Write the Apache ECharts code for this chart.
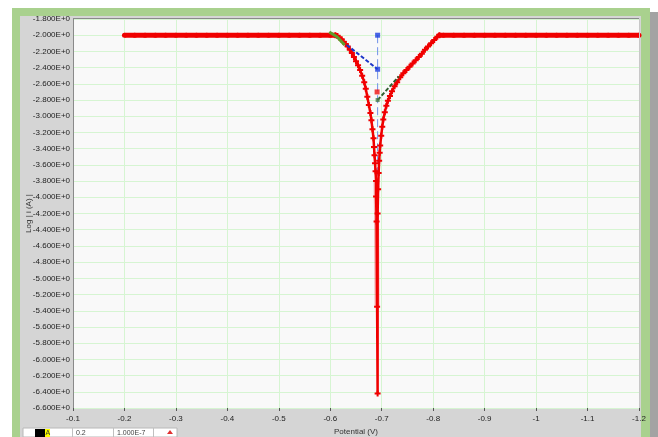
<!DOCTYPE html>
<html><head><meta charset="utf-8">
<script src="https://cdn.jsdelivr.net/npm/echarts@6/dist/echarts.min.js"></script>
<style>html,body{margin:0;padding:0;background:#fff}#c{width:658px;height:437px}</style>
</head><body><div id="c"></div>
<script>
// ---- data ----
const xTickLabels = ['-0.1','-0.2','-0.3','-0.4','-0.5','-0.6','-0.7','-0.8','-0.9','-1','-1.1','-1.2'];
const leftFlatPot = [-0.20,-0.22,-0.24,-0.26,-0.28,-0.30,-0.32,-0.34,-0.36,-0.38,-0.40,-0.42,-0.44,-0.46,-0.48,-0.50,-0.52,-0.54,-0.56,-0.58,-0.60,-0.61];
const leftFlatLog = [-2.0,-2.0,-2.0,-2.0,-2.0,-2.0,-2.0,-2.0,-2.0,-2.0,-2.0,-2.0,-2.0,-2.0,-2.0,-2.0,-2.0,-2.0,-2.0,-2.0,-2.0,-2.0];
const dipPot = [-0.610,-0.614,-0.618,-0.622,-0.626,-0.630,-0.634,-0.638,-0.642,-0.646,-0.650,-0.654,-0.658,-0.662,-0.666,-0.669,-0.672,-0.675,-0.678,-0.680,-0.682,-0.684,-0.685,-0.686,-0.687,-0.688,-0.689,-0.689,-0.690,-0.691,-0.692,
  -0.692,-0.693,-0.694,-0.695,-0.696,-0.697,-0.699,-0.701,-0.703,-0.706,-0.709,-0.712,-0.716,-0.720,-0.725,-0.730,-0.736,-0.742,-0.748,-0.754,-0.760,-0.766,-0.772,-0.778,-0.784,-0.790,-0.796,-0.802,-0.808,-0.812];
const dipLog = [-2.00,-2.01,-2.03,-2.05,-2.08,-2.11,-2.14,-2.18,-2.22,-2.27,-2.32,-2.37,-2.43,-2.50,-2.58,-2.66,-2.76,-2.86,-2.96,-3.05,-3.16,-3.27,-3.38,-3.48,-3.58,-3.68,-3.80,-3.99,-4.30,-5.35,-6.42,
  -4.20,-3.90,-3.70,-3.55,-3.45,-3.36,-3.24,-3.13,-3.04,-2.95,-2.87,-2.81,-2.75,-2.69,-2.63,-2.58,-2.52,-2.47,-2.43,-2.39,-2.35,-2.31,-2.27,-2.23,-2.18,-2.14,-2.10,-2.06,-2.02,-2.00];
const rightFlatPot = [-0.812,-0.82,-0.84,-0.86,-0.88,-0.90,-0.92,-0.94,-0.96,-0.98,-1.00,-1.02,-1.04,-1.06,-1.08,-1.10,-1.12,-1.14,-1.16,-1.18,-1.20];
const rightFlatLog = [-2.0,-2.0,-2.0,-2.0,-2.0,-2.0,-2.0,-2.0,-2.0,-2.0,-2.0,-2.0,-2.0,-2.0,-2.0,-2.0,-2.0,-2.0,-2.0,-2.0,-2.0];
const stemGlowPot = [-0.689,-0.690,-0.691];
const stemGlowLog = [-3.80,-4.30,-5.35];
const anodicFitPot = [-0.632,-0.692];
const anodicFitLog = [-2.12,-2.42];
const ecorrLinePot = [-0.692,-0.692];
const ecorrLineLog = [-2.00,-5.20];
const cathodicFitPot = [-0.692,-0.733];
const cathodicFitLog = [-2.80,-2.51];
const greenSegPot = [-0.598,-0.613,-0.628];
const greenSegLog = [-1.96,-2.02,-2.12];
const bluePtsPot = [-0.692,-0.692];
const bluePtsLog = [-2.00,-2.42];
const redPtPot = [-0.691];
const redPtLog = [-2.70];
const greenPtPot = [-0.692];
const greenPtLog = [-2.80];

const pairs = (xs, ys) => xs.map((x, i) => [x, ys[i]]);
const RED = '#f00000';
const plus = 'path://M2,0H4V2H6V4H4V6H2V4H0V2H2Z';

const chart = echarts.init(document.getElementById('c'), null, {renderer: 'canvas'});
const FONT = 'Liberation Sans, Arial, sans-serif';
const lbl = {fontFamily: FONT, fontSize: 8, color: '#222'};
chart.setOption({
  animation: false,
  backgroundColor: '#ffffff',
  grid: {left: 73, right: 19, top: 19, bottom: 29, show: true, backgroundColor: '#f9f9f9', borderWidth: 0,
    containLabel: false, outerBoundsMode: 'none'},
  graphic: [
    {type: 'rect', z: -100, shape: {x: 650, y: 12, width: 8, height: 425}, style: {fill: '#a3a3a3'}},
    {type: 'rect', z: -99, shape: {x: 12, y: 8, width: 638, height: 429}, style: {fill: '#a9d18e'}},
    {type: 'rect', z: -98, shape: {x: 20, y: 16, width: 621, height: 421}, style: {fill: '#d5d5d5'}},
    {type: 'line', z: 50, shape: {x1: 73, y1: 18.5, x2: 639, y2: 18.5}, style: {stroke: '#8a8a8a', lineWidth: 1}},
    {type: 'line', z: 50, shape: {x1: 639.5, y1: 19, x2: 639.5, y2: 408}, style: {stroke: '#c8c8c8', lineWidth: 1}},
    // bottom status bar
    {type: 'rect', z: 50, shape: {x: 23, y: 428, width: 154, height: 9}, style: {fill: '#ffffff', stroke: '#b8b8b8', lineWidth: 1}},
    {type: 'rect', z: 51, shape: {x: 35, y: 429, width: 10, height: 8}, style: {fill: '#000000'}},
    {type: 'rect', z: 51, shape: {x: 45, y: 429, width: 5, height: 8}, style: {fill: '#ffff00'}},
    {type: 'text', z: 52, style: {x: 45.5, y: 429.5, text: 'A', fontSize: 7, fontFamily: FONT, fill: '#333'}},
    {type: 'line', z: 51, shape: {x1: 72.5, y1: 428, x2: 72.5, y2: 437}, style: {stroke: '#c0c0c0', lineWidth: 1}},
    {type: 'text', z: 52, style: {x: 76, y: 429.5, text: '0.2', fontSize: 7, fontFamily: FONT, fill: '#444'}},
    {type: 'line', z: 51, shape: {x1: 113.5, y1: 428, x2: 113.5, y2: 437}, style: {stroke: '#c0c0c0', lineWidth: 1}},
    {type: 'text', z: 52, style: {x: 117, y: 429.5, text: '1.000E-7', fontSize: 7, fontFamily: FONT, fill: '#444'}},
    {type: 'line', z: 51, shape: {x1: 153.5, y1: 428, x2: 153.5, y2: 437}, style: {stroke: '#c0c0c0', lineWidth: 1}},
    {type: 'polygon', z: 52, shape: {points: [[167, 434], [173, 434], [170, 430]]}, style: {fill: '#e03030'}}
  ],
  xAxis: {
    type: 'value', min: -1.2, max: -0.1, interval: 0.1, inverse: true,
    name: 'Potential (V)', nameLocation: 'middle', nameGap: 20, nameMoveOverlap: false,
    nameTextStyle: {fontFamily: FONT, fontSize: 8, color: '#333'},
    axisLine: {show: false},
    axisTick: {show: true, length: 3, inside: false, lineStyle: {color: '#555'}},
    axisLabel: {...lbl, margin: 7, showMaxLabel: true, showMinLabel: true,
      formatter: v => xTickLabels[Math.round((-v - 0.1) / 0.1)] ?? ''},
    splitLine: {show: true, lineStyle: {color: '#d6f5d2', width: 1}}
  },
  yAxis: {
    type: 'value', min: -6.6, max: -1.8, interval: 0.2,
    name: 'Log | i (A) |', nameLocation: 'middle', nameGap: 40, nameRotate: 90, nameMoveOverlap: false,
    nameTextStyle: {fontFamily: FONT, fontSize: 8, color: '#333'},
    axisLine: {show: true, lineStyle: {color: '#8a8a8a', width: 1}},
    axisTick: {show: false},
    axisLabel: {...lbl, margin: 3, formatter: v => v.toFixed(3) + 'E+0'},
    splitLine: {show: true, lineStyle: {color: '#d6f5d2', width: 1}}
  },
  series: [
    {type: 'line', data: pairs(ecorrLinePot, ecorrLineLog), symbol: 'none', z: 3,
      lineStyle: {color: '#7090e8', width: 1, type: [8, 4]}},
    {type: 'line', data: pairs(stemGlowPot, stemGlowLog), symbol: 'none', z: 4,
      lineStyle: {color: 'rgba(240,80,80,0.45)', width: 5}},
    {type: 'line', data: pairs(leftFlatPot, leftFlatLog), symbol: 'circle', symbolSize: 5, z: 5,
      itemStyle: {color: RED}, lineStyle: {color: RED, width: 5}},
    {type: 'line', data: pairs(rightFlatPot, rightFlatLog), symbol: 'circle', symbolSize: 5, z: 5,
      itemStyle: {color: RED}, lineStyle: {color: RED, width: 5}},
    {type: 'line', data: pairs(greenSegPot, greenSegLog), symbol: 'none', z: 6,
      lineStyle: {color: '#5e9e2e', width: 3}},
    {type: 'line', data: pairs(dipPot, dipLog), symbol: plus, symbolSize: 6, z: 5,
      itemStyle: {color: RED}, lineStyle: {color: RED, width: 2.5}},
    {type: 'line', data: pairs(anodicFitPot, anodicFitLog), symbol: 'none', z: 7,
      lineStyle: {color: '#1c36c8', width: 2, type: [4, 2]}},
    {type: 'line', data: pairs(cathodicFitPot, cathodicFitLog), symbol: 'none', z: 7,
      lineStyle: {color: '#2f5f2f', width: 2, type: [4, 2]}},
    {type: 'scatter', data: pairs(bluePtsPot, bluePtsLog), symbol: 'rect', symbolSize: 5, z: 8,
      itemStyle: {color: '#1c3ee0'}},
    {type: 'scatter', data: pairs(redPtPot, redPtLog), symbol: 'rect', symbolSize: 5, z: 8,
      itemStyle: {color: '#f01010'}},
    {type: 'scatter', data: pairs(greenPtPot, greenPtLog), symbol: 'rect', symbolSize: 4, z: 8,
      itemStyle: {color: '#4a7a4a'}}
  ]
});
</script></body></html>
